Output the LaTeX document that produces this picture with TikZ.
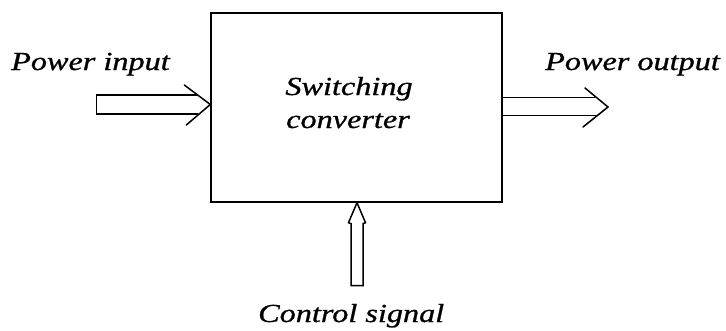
\documentclass[tikz,border=0pt]{standalone}
\usepackage{fontspec}
\setmainfont{Liberation Serif}
\newfontfamily\labelfont{Liberation Serif}[FakeBold=0.8]
\usetikzlibrary{calc}
\newcommand\widetext[1]{\scalebox{1.24}[1]{\labelfont\itshape #1}}
\tikzset{
  lbl/.style={inner sep=0pt, anchor=base west, font=\fontsize{26}{26}\selectfont},
  clbl/.style={inner sep=0pt, anchor=base, font=\fontsize{26}{26}\selectfont},
  blockbox/.style={draw, line width=1.4pt, minimum width=291pt, minimum height=189pt, inner sep=0pt},
  arr/.style={line width=1.5pt, line join=miter, line cap=round}
}
\begin{document}
\begin{tikzpicture}[x=1pt, y=-1pt]
\useasboundingbox (0,0) rectangle (726,330);
% main block
\node[blockbox] (conv) at (356.5,107.5) {};
\node[clbl] (conv1) at (349,95) {\widetext{Switching}};
\node[clbl] (conv2) at (348,128) {\widetext{converter}};
% labels
\node[lbl] (pin) at (11,70) {\widetext{Power input}};
\node[lbl] (pout) at (545,70) {\widetext{Power output}};
\node[lbl] (ctl) at (258,322) {\widetext{Control signal}};
% input arrow
\coordinate (inTip) at ($(conv.west)+(0,-3)$);
\draw[arr] ($(inTip)+(-13.5,-9.5)$) -- ($(inTip)+(-114,-9.5)$) -- ($(inTip)+(-114,9.5)$) -- ($(inTip)+(-12.5,9.5)$);
\draw[arr] ($(inTip)+(-26,-19.5)$) -- (inTip) -- ($(inTip)+(-24,20.5)$);
% output arrow
\coordinate (outTip) at (608,107);
\draw[arr] ($(conv.east)+(0,-10)$) -- ($(outTip)+(-13,-9.5)$);
\draw[arr] ($(conv.east)+(0,8)$) -- ($(outTip)+(-12,8.5)$);
\draw[arr] ($(outTip)+(-23,-19)$) -- (outTip) -- ($(outTip)+(-25,20)$);
% control arrow
\coordinate (ctlTip) at ($(conv.south)+(0.5,0)$);
\draw[arr] ($(ctlTip)+(-6,83)$) -- ($(ctlTip)+(-6,21)$) -- ($(ctlTip)+(-8.5,20)$) -- (ctlTip) -- ($(ctlTip)+(8.5,20)$) -- ($(ctlTip)+(6,21)$) -- ($(ctlTip)+(6,83)$) -- cycle;
\end{tikzpicture}
\end{document}
